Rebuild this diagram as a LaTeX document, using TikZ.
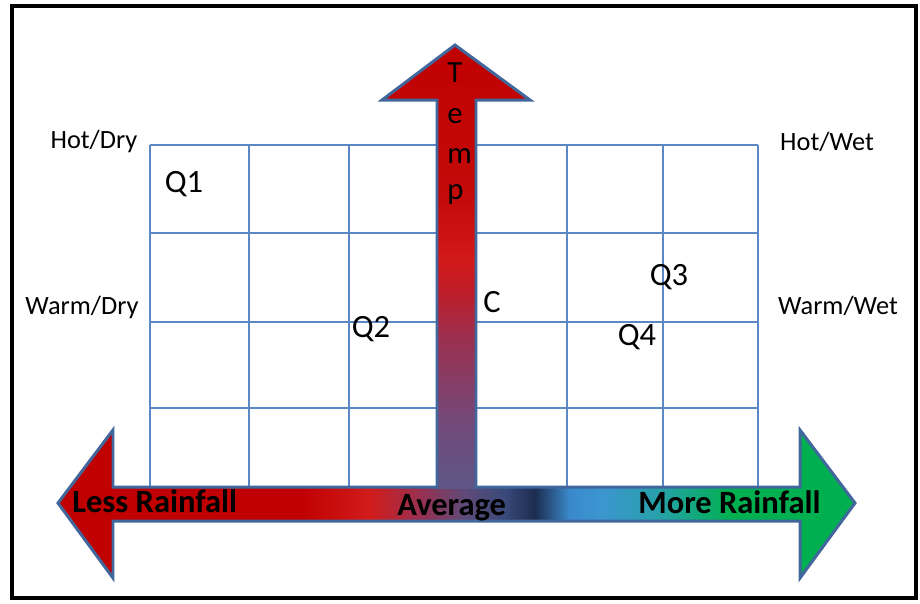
\documentclass[tikz,border=0pt]{standalone}
\usepackage{fontspec}
\setmainfont{Carlito}
\usetikzlibrary{positioning}

\definecolor{edgeblue}{HTML}{41679C}
\definecolor{gridblue}{HTML}{5B87C5}
\definecolor{hsA}{HTML}{C00000}
\definecolor{hsB}{HTML}{D21C1C}
\definecolor{hsC}{HTML}{983050}
\definecolor{hsD}{HTML}{5E4A78}
\definecolor{hsE}{HTML}{3A4A7A}
\definecolor{hsF}{HTML}{1C2C50}
\definecolor{hsG}{HTML}{3A8ACB}
\definecolor{hsH}{HTML}{3C95D0}
\definecolor{hsI}{HTML}{26A2A8}
\definecolor{hsJ}{HTML}{00B050}
\definecolor{vsA}{HTML}{5C5686}
\definecolor{vsB}{HTML}{74497A}
\definecolor{vsC}{HTML}{9A3050}
\definecolor{vsD}{HTML}{C01C28}
\definecolor{vsE}{HTML}{D21A1A}
\definecolor{vsF}{HTML}{C40A0A}
\definecolor{vsG}{HTML}{C00000}

% rainfall axis, left red to right green
\pgfdeclarehorizontalshading{rainshade}{100bp}{color(0bp)=(hsA); color(40.2bp)=(hsA);
  color(44.6bp)=(hsB); color(47.7bp)=(hsC); color(50.5bp)=(hsD); color(53bp)=(hsE);
  color(54.9bp)=(hsF); color(57.1bp)=(hsG); color(59bp)=(hsH); color(62.8bp)=(hsI);
  color(67.2bp)=(hsJ); color(100bp)=(hsJ)}
% temperature axis, bottom purple to top red
\pgfdeclareverticalshading{tempshade}{100bp}{color(0bp)=(vsA); color(25bp)=(vsA);
  color(32.8bp)=(vsB); color(41.8bp)=(vsC); color(47.4bp)=(vsD); color(50.8bp)=(vsE);
  color(57.6bp)=(vsF); color(75bp)=(vsG); color(100bp)=(vsG)}

\begin{document}
\begin{tikzpicture}[x=0.02cm, y=-0.02cm,
    gridln/.style={draw=gridblue, line width=0.7pt},
    edge/.style={draw=edgeblue, line width=1.7pt, line join=miter},
    lbl/.style={font=\fontsize{15}{18}\selectfont, inner sep=0pt, anchor=base},
    qlbl/.style={font=\fontsize{18.5}{22}\selectfont, inner sep=0pt, anchor=base},
    temp/.style={font=\fontsize{17.5}{21}\selectfont, inner sep=0pt, anchor=base west},
    rain/.style={font=\fontsize{18.5}{22}\selectfont\bfseries, inner sep=0pt, anchor=base west}
]
\useasboundingbox (0,0) rectangle (920,603);
\fill[white] (0,0) rectangle (920,603);
\draw[line width=2.3pt] (12,6) rectangle (916,598);

% grid
\foreach \gx in {150,249,349,567,663,758} \draw[gridln] (\gx,145) -- (\gx,488);
\foreach \gy in {145,233,322,408} \draw[gridln] (150,\gy) -- (758,\gy);

% double arrow for rainfall
\shadedraw[shading=rainshade, edge] (58,503) -- (113,430) -- (113,487) -- (800,487)
  -- (800,430) -- (855,503) -- (800,578) -- (800,521) -- (113,521) -- (113,578) -- cycle;

% up arrow for temperature
\shade[shading=tempshade] (437,489) -- (437,100) -- (382,100) -- (455,45)
  -- (530,100) -- (476,100) -- (476,489) -- cycle;
\draw[edge] (437,489) -- (437,100) -- (382,100) -- (455,45)
  -- (530,100) -- (476,100) -- (476,489);

\foreach \ch/\yb [count=\i] in {T/82,e/123,m/163,p/199}
  \node[temp] (temp\i) at (447,\yb) {\ch};

% corner labels
\node[lbl] (hotdry) at (94,148) {Hot/Dry};
\node[lbl] (warmdry) at (82,314) {Warm/Dry};
\node[lbl] (hotwet) at (827,150) {Hot/Wet};
\node[lbl] (warmwet) at (838,314) {Warm/Wet};

\node[qlbl] (q1) at (184,192) {Q1};
\node[qlbl] (q2) at (371,337) {Q2};
\node[qlbl] (c) at (492,312) {C};
\node[qlbl] (q3) at (669,285) {Q3};
\node[qlbl] (q4) at (637,345) {Q4};

\node[rain] (less) at (72,512) {Less Rainfall};
\node[rain] (avg) at (397,515) {Average};
\node[rain] (more) at (638,513) {More Rainfall};
\end{tikzpicture}
\end{document}
